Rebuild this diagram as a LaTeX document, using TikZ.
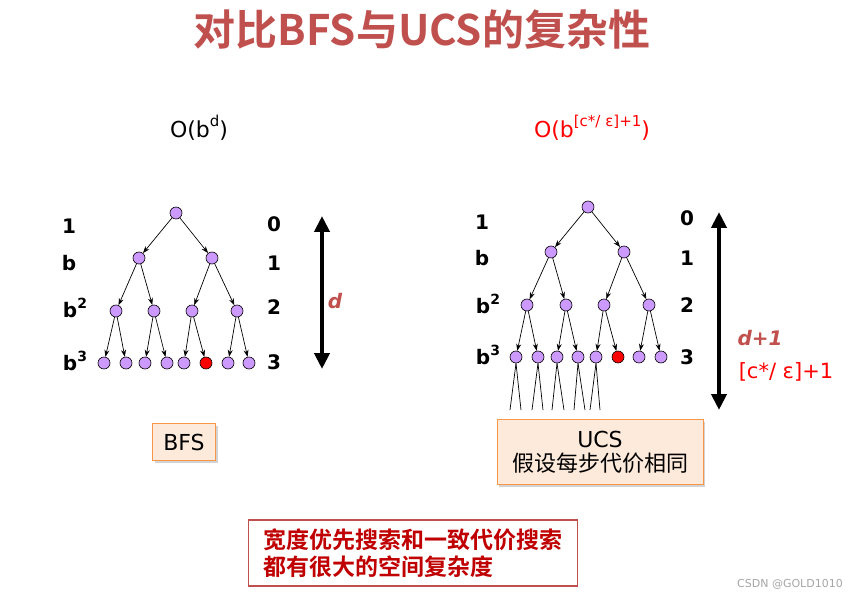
\documentclass[tikz,border=0pt]{standalone}
\usepackage{fontspec}
\setmainfont{DejaVu Sans}
\newfontfamily\cjk{Noto Sans CJK SC}[BoldFont={Noto Sans CJK SC Bold}]
\usetikzlibrary{arrows.meta,shadows}
\definecolor{titlered}{RGB}{192,80,77}
\definecolor{darkred}{RGB}{192,0,0}
\definecolor{nodepurple}{RGB}{204,153,255}
\definecolor{boxfill}{RGB}{253,234,218}
\definecolor{boxline}{RGB}{247,150,70}
\newcommand{\supx}[1]{\raisebox{0.5em}{\fontsize{15}{15}\selectfont #1}}
\newcommand{\pw}[1]{\raisebox{0.42em}{\fontsize{14}{14}\selectfont\bfseries #1}}
\begin{document}
\begin{tikzpicture}[
    x=1pt, y=-1pt,
    >={Stealth[length=7pt,width=5pt]},
    line width=0.7pt,
    state/.style={circle, draw, fill=nodepurple, minimum size=12pt, inner sep=0pt, line width=0.6pt},
    goal/.style={state, fill=red},
    lvl/.style={font=\fontsize{20}{20}\selectfont\bfseries},
    depth/.style={line width=4pt, {Triangle[width=15pt,length=16pt]}-{Triangle[width=15pt,length=16pt]}},
    algbox/.style={draw=boxline, fill=boxfill, line width=1pt, inner sep=0pt,
      drop shadow={opacity=0.35, shadow xshift=2pt, shadow yshift=-2pt}}
]
  \useasboundingbox (0,0) rectangle (863,599);

  % title
  \node[text=titlered, font=\cjk\bfseries\fontsize{42}{42}\selectfont] (title) at (422,30) {对比BFS与UCS的复杂性};
  \node[font=\fontsize{22}{22}\selectfont] (obfs) at (199,128) {O(b\supx{d})};
  \node[text=red, font=\fontsize{22}{22}\selectfont] (oucs) at (592,128) {O(b\supx{[c*/ ε]+1})};

  % BFS tree nodes
  \node[state] (r)   at (176,213) {};
  \node[state] (a1)  at (139,258) {};
  \node[state] (a2)  at (212,258) {};
  \node[state] (b1)  at (116,311) {};
  \node[state] (b2)  at (154,311) {};
  \node[state] (b3)  at (192,311) {};
  \node[state] (b4)  at (237,311) {};
  \node[state] (c1)  at (104,363) {};
  \node[state] (c2)  at (126,363) {};
  \node[state] (c3)  at (145,363) {};
  \node[state] (c4)  at (167,363) {};
  \node[state] (c5)  at (184,363) {};
  \node[goal]  (c6)  at (206,363) {};
  \node[state] (c7)  at (228,363) {};
  \node[state] (c8)  at (249,363) {};

  % BFS tree edges
  \draw[->] (r) -- (a1);
  \draw[->] (r) -- (a2);
  \draw[->] (a1) -- (b1);
  \draw[->] (a1) -- (b2);
  \draw[->] (a2) -- (b3);
  \draw[->] (a2) -- (b4);
  \draw[->] (b1) -- (c1);
  \draw[->] (b1) -- (c2);
  \draw[->] (b2) -- (c3);
  \draw[->] (b2) -- (c4);
  \draw[->] (b3) -- (c5);
  \draw[->] (b3) -- (c6);
  \draw[->] (b4) -- (c7);
  \draw[->] (b4) -- (c8);

  % BFS labels
  \node[lvl] (l0) at (69,226) {1};
  \node[lvl] (l1) at (69,263) {b};
  \node[lvl] (l2) at (75,308) {b\pw{2}};
  \node[lvl] (l3) at (75,361) {b\pw{3}};
  \node[lvl] (n0) at (274,224) {0};
  \node[lvl] (n1) at (274,263) {1};
  \node[lvl] (n2) at (274,307) {2};
  \node[lvl] (n3) at (274,362) {3};
  \coordinate (dtop) at (322,216);
  \coordinate (dbot) at (322,369);
  \draw[depth] (dtop) -- (dbot);
  \node[text=titlered, font=\fontsize{20}{20}\selectfont\bfseries\itshape] (dlab) at (335,301) {d};

  % UCS tree nodes
  \node[state] (ur)  at (588,207) {};
  \node[state] (ua1) at (551,252) {};
  \node[state] (ua2) at (624,252) {};
  \node[state] (ub1) at (527,305) {};
  \node[state] (ub2) at (566,305) {};
  \node[state] (ub3) at (604,305) {};
  \node[state] (ub4) at (649,305) {};
  \node[state] (uc1) at (516,357) {};
  \node[state] (uc2) at (538,357) {};
  \node[state] (uc3) at (557,357) {};
  \node[state] (uc4) at (578,357) {};
  \node[state] (uc5) at (596,357) {};
  \node[goal]  (uc6) at (618,357) {};
  \node[state] (uc7) at (639,357) {};
  \node[state] (uc8) at (661,357) {};

  % UCS tree edges
  \draw[->] (ur) -- (ua1);
  \draw[->] (ur) -- (ua2);
  \draw[->] (ua1) -- (ub1);
  \draw[->] (ua1) -- (ub2);
  \draw[->] (ua2) -- (ub3);
  \draw[->] (ua2) -- (ub4);
  \draw[->] (ub1) -- (uc1);
  \draw[->] (ub1) -- (uc2);
  \draw[->] (ub2) -- (uc3);
  \draw[->] (ub2) -- (uc4);
  \draw[->] (ub3) -- (uc5);
  \draw[->] (ub3) -- (uc6);
  \draw[->] (ub4) -- (uc7);
  \draw[->] (ub4) -- (uc8);

  % branches going deeper
  \foreach \n/\xl/\xr in {1/510/521, 2/532/543, 3/552/564, 4/574/585, 5/590/600} {
    \coordinate (tl\n) at (\xl,410);
    \coordinate (tr\n) at (\xr,410);
    \draw (uc\n.south) -- (tl\n);
    \draw (uc\n.south) -- (tr\n);
  }

  % UCS labels
  \node[lvl] (ul0) at (482,222) {1};
  \node[lvl] (ul1) at (482,258) {b};
  \node[lvl] (ul2) at (488,304) {b\pw{2}};
  \node[lvl] (ul3) at (488,355) {b\pw{3}};
  \node[lvl] (un0) at (687,218) {0};
  \node[lvl] (un1) at (687,258) {1};
  \node[lvl] (un2) at (687,305) {2};
  \node[lvl] (un3) at (687,357) {3};
  \coordinate (utop) at (719,212);
  \coordinate (ubot) at (719,410);
  \draw[depth] (utop) -- (ubot);
  \node[text=titlered, font=\fontsize{20}{20}\selectfont\bfseries\itshape] (udlab) at (760,338) {d+1};
  \node[text=red, font=\fontsize{21}{21}\selectfont] (ucost) at (786,372) {[c*/ ε]+1};

  % boxes
  \node[algbox, minimum width=63pt, minimum height=37pt, font=\fontsize{22}{22}\selectfont] (bfs) at (184,442) {BFS};
  \node[algbox, minimum width=206pt, minimum height=65pt, align=center, font=\fontsize{22}{24}\selectfont] (ucs) at (600,452)
    {UCS\\{\cjk 假设每步代价相同}};
  \node[draw=titlered, line width=1.6pt, fill=white, text=darkred, minimum width=329pt, minimum height=66pt,
    inner sep=0pt, align=left, font=\cjk\bfseries\fontsize{23}{27}\selectfont] (note) at (413,553)
    {宽度优先搜索和一致代价搜索\\都有很大的空间复杂度};

  % watermark
  \node[text=gray!70, font=\fontsize{11}{11}\selectfont] (mark) at (790,584) {CSDN @GOLD1010};
\end{tikzpicture}
\end{document}
